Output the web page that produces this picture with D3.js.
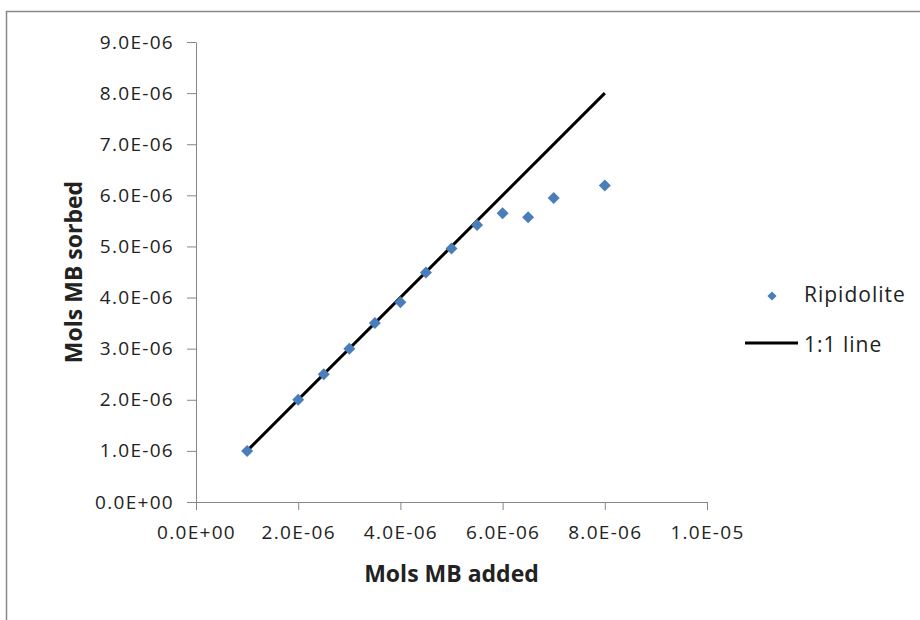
<!DOCTYPE html>
<html>
<head>
<meta charset="utf-8">
<script src="https://cdn.jsdelivr.net/npm/d3@7"></script>
<style>
  body { margin: 0; background: #fff; }
  text { font-family: 'Open Sans', sans-serif; fill: #222; }
</style>
</head>
<body>
<script>
// data
const added = [1.0e-6, 2.0e-6, 2.5e-6, 3.0e-6, 3.5e-6, 4.0e-6, 4.5e-6, 5.0e-6, 5.5e-6, 6.0e-6, 6.5e-6, 7.0e-6, 8.0e-6];
const sorbed = [1.0e-6, 2.0e-6, 2.5e-6, 3.0e-6, 3.5e-6, 3.91e-6, 4.49e-6, 4.96e-6, 5.42e-6, 5.65e-6, 5.57e-6, 5.95e-6, 6.19e-6];
const lineX = [1.0e-6, 8.0e-6];
const lineY = [1.0e-6, 8.0e-6];
const xTicks = [0, 2e-6, 4e-6, 6e-6, 8e-6, 1e-5];
const yTicks = [0, 1e-6, 2e-6, 3e-6, 4e-6, 5e-6, 6e-6, 7e-6, 8e-6, 9e-6];
const seriesNames = ['Ripidolite', '1:1 line'];

const W = 920;
const H = 620;
const margin = { top: 42, right: 213, bottom: 118, left: 196 };
const width = W - margin.left - margin.right;
const height = H - margin.top - margin.bottom;

const fmt = (v) => {
  if (v === 0) return '0.0E+00';
  const e = Math.floor(Math.log10(v) + 1e-9);
  const m = v / 10 ** e;
  return `${m.toFixed(1)}E-${String(-e).padStart(2, '0')}`;
};

const root = d3.select('body')
  .append('svg')
  .attr('width', W)
  .attr('height', H);

root.append('rect')
  .attr('x', 6.5)
  .attr('y', 11.5)
  .attr('width', W)
  .attr('height', H)
  .attr('fill', 'none')
  .attr('stroke', '#888')
  .attr('stroke-width', 1.5);

const svg = root.append('g')
  .attr('transform', `translate(${margin.left},${margin.top})`);

const x = d3.scaleLinear().domain([0, 1e-5]).range([0, width]);
const y = d3.scaleLinear().domain([0, 9e-6]).range([height, 0]);

const xAxis = d3.axisBottom(x).tickValues(xTicks).tickFormat(fmt)
  .tickSizeInner(8).tickSizeOuter(0).tickPadding(16);
const yAxis = d3.axisLeft(y).tickValues(yTicks).tickFormat(fmt)
  .tickSizeInner(9).tickSizeOuter(0).tickPadding(13);

const gx = svg.append('g')
  .attr('transform', `translate(0,${height})`)
  .call(xAxis);
const gy = svg.append('g').call(yAxis);

[gx, gy].forEach((g) => {
  g.selectAll('path, line').attr('stroke', '#868686').attr('stroke-width', 1);
  g.selectAll('text')
    .style('font-size', '19px')
    .style('letter-spacing', '1.3px')
    .attr('fill', '#222');
});

// 1:1 line
svg.append('path')
  .datum(lineX.map((d, i) => [d, lineY[i]]))
  .attr('d', d3.line().x((d) => x(d[0])).y((d) => y(d[1])))
  .attr('fill', 'none')
  .attr('stroke', '#000')
  .attr('stroke-width', 3);

const diamond = d3.symbol().type(d3.symbolSquare).size(72);

svg.selectAll('.pt')
  .data(added.map((d, i) => [d, sorbed[i]]))
  .enter().append('path')
  .attr('class', 'pt')
  .attr('d', diamond)
  .attr('transform', (d) => `translate(${x(d[0])},${y(d[1])}) rotate(45)`)
  .attr('fill', '#4a7ebb');

// axis titles
svg.append('text')
  .attr('x', width / 2)
  .attr('y', height + 80)
  .attr('text-anchor', 'middle')
  .style('font-size', '23px')
  .style('font-weight', 'bold')
  .text('Mols MB added');

svg.append('text')
  .attr('transform', `translate(-114,${height / 2}) rotate(-90)`)
  .attr('text-anchor', 'middle')
  .style('font-size', '23px')
  .style('font-weight', 'bold')
  .text('Mols MB sorbed');

// legend
const legend = root.append('g').attr('transform', 'translate(745,296)');
legend.append('path')
  .attr('d', d3.symbol().type(d3.symbolSquare).size(42))
  .attr('transform', 'translate(27,0) rotate(45)')
  .attr('fill', '#4a7ebb');
legend.append('text')
  .attr('x', 59)
  .attr('y', 6)
  .style('font-size', '21px')
  .style('letter-spacing', '1px')
  .text(seriesNames[0]);
legend.append('line')
  .attr('x1', 0)
  .attr('x2', 53)
  .attr('y1', 47)
  .attr('y2', 47)
  .attr('stroke', '#000')
  .attr('stroke-width', 3);
legend.append('text')
  .attr('x', 59)
  .attr('y', 56)
  .style('font-size', '21px')
  .style('letter-spacing', '1px')
  .text(seriesNames[1]);
</script>
</body>
</html>
